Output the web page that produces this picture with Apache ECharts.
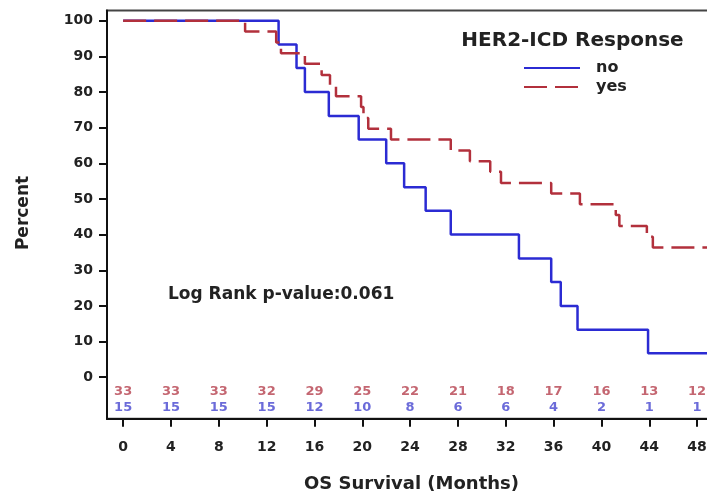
<!DOCTYPE html>
<html>
<head>
<meta charset="utf-8">
<script src="https://cdn.jsdelivr.net/npm/echarts@6/dist/echarts.min.js"></script>
<style>
  html, body { margin: 0; padding: 0; background: #fff; }
  #chart { width: 707px; height: 495px; }
</style>
</head>
<body>
<div id="chart"></div>
<script>
// Kaplan-Meier overall survival by HER2-ICD response
const noTimes   = [0, 13.0, 14.5, 15.2, 17.2, 19.7, 22.0, 23.5, 25.3, 27.4, 33.1, 35.8, 36.6, 38.0, 43.9, 50];
const noSurv    = [100, 93.3, 86.7, 80.0, 73.3, 66.7, 60.0, 53.3, 46.7, 40.0, 33.3, 26.7, 20.0, 13.3, 6.7, 6.7];

const yesTimes  = [0, 10.2, 12.8, 13.2, 15.2, 16.6, 17.3, 17.8, 19.9, 20.1, 20.5, 22.4, 27.4, 29.0, 30.7, 31.6, 35.8, 38.2, 41.2, 41.5, 43.8, 44.3, 50];
const yesSurv   = [100, 97.0, 93.9, 90.9, 87.9, 84.8, 81.8, 78.8, 75.8, 72.7, 69.7, 66.7, 63.6, 60.6, 57.6, 54.5, 51.5, 48.5, 45.5, 42.4, 39.4, 36.4, 36.4];

// numbers at risk below the curves
const riskMonths = [0, 4, 8, 12, 16, 20, 24, 28, 32, 36, 40, 44, 48];
const riskYes    = [33, 33, 33, 32, 29, 25, 22, 21, 18, 17, 16, 13, 12];
const riskNo     = [15, 15, 15, 15, 12, 10, 8, 6, 6, 4, 2, 1, 1];

const yTicks = [0, 10, 20, 30, 40, 50, 60, 70, 80, 90, 100];
const xTicks = [0, 4, 8, 12, 16, 20, 24, 28, 32, 36, 40, 44, 48];

const BLUE = '#2b2bd3';
const RED = '#b2303c';
const FONT = 'DejaVu Sans';

const zip = (xs, ys) => xs.map((x, i) => [x, ys[i]]);

const chart = echarts.init(document.getElementById('chart'), null, { renderer: 'canvas' });

chart.setOption({
  animation: false,
  backgroundColor: '#ffffff',
  grid: {
    left: 107, top: 10.5, width: 614, height: 408.2,
    show: true, borderColor: '#444', borderWidth: 2,
    containLabel: false, outerBoundsMode: 'none'
  },
  xAxis: {
    type: 'value', min: -1.35, max: 50,
    splitLine: { show: false },
    axisLine: { show: true, onZero: false, lineStyle: { color: '#111', width: 2 } },
    axisTick: { show: true, customValues: xTicks, length: 8, lineStyle: { color: '#111', width: 2 } },
    axisLabel: { customValues: xTicks, margin: 22, fontFamily: FONT, fontWeight: 'bold', fontSize: 14, color: '#222' }
  },
  yAxis: {
    type: 'value', min: -11.64, max: 102.86,
    splitLine: { show: false },
    axisLine: { show: true, onZero: false, lineStyle: { color: '#111', width: 2 } },
    axisTick: { show: true, customValues: yTicks, length: 8, lineStyle: { color: '#111', width: 2 } },
    axisLabel: { customValues: yTicks, margin: 14, fontFamily: FONT, fontWeight: 'bold', fontSize: 14, color: '#222' }
  },
  legend: {
    data: ['no', 'yes'],
    orient: 'vertical', left: 523, top: 60, padding: 0,
    itemWidth: 56, itemHeight: 14, itemGap: 3,
    itemStyle: { opacity: 0 },
    textStyle: { fontFamily: FONT, fontWeight: 'bold', fontSize: 16, lineHeight: 14, color: '#222', padding: [0, 0, 0, 11] }
  },
  graphic: [
    { type: 'text', x: 572.5, y: 41, style: { text: 'HER2-ICD Response', fontFamily: FONT, fontWeight: 'bold', fontSize: 20, fill: '#222', align: 'center', verticalAlign: 'middle' } },
    { type: 'text', x: 168, y: 295, style: { text: 'Log Rank p-value:0.061', fontFamily: FONT, fontWeight: 'bold', fontSize: 17, fill: '#222', align: 'left', verticalAlign: 'middle' } },
    { type: 'text', x: 24, y: 213, rotation: Math.PI / 2, style: { text: 'Percent', fontFamily: FONT, fontWeight: 'bold', fontSize: 17, fill: '#222', align: 'center', verticalAlign: 'middle' } },
    { type: 'text', x: 411.5, y: 484, style: { text: 'OS Survival (Months)', fontFamily: FONT, fontWeight: 'bold', fontSize: 18, fill: '#222', align: 'center', verticalAlign: 'middle' } }
  ],
  series: [
    {
      name: 'no', type: 'line', step: 'end', symbol: 'none',
      data: zip(noTimes, noSurv),
      lineStyle: { color: BLUE, width: 2.5 }, itemStyle: { color: BLUE }
    },
    {
      name: 'yes', type: 'line', step: 'end', symbol: 'none',
      data: zip(yesTimes, yesSurv),
      lineStyle: { color: RED, width: 2.5, type: [23, 8] }, itemStyle: { color: RED }
    },
    {
      name: 'atRiskYes', type: 'scatter', symbolSize: 0, silent: true,
      data: riskMonths.map((m, i) => ({ value: [m, -4.0], count: riskYes[i] })),
      label: { show: true, position: 'inside', formatter: p => String(p.data.count), fontFamily: FONT, fontWeight: 'bold', fontSize: 13, color: '#b5404e' }
    },
    {
      name: 'atRiskNo', type: 'scatter', symbolSize: 0, silent: true,
      data: riskMonths.map((m, i) => ({ value: [m, -8.5], count: riskNo[i] })),
      label: { show: true, position: 'inside', formatter: p => String(p.data.count), fontFamily: FONT, fontWeight: 'bold', fontSize: 13, color: '#4646cf' }
    }
  ]
});
</script>
</body>
</html>
